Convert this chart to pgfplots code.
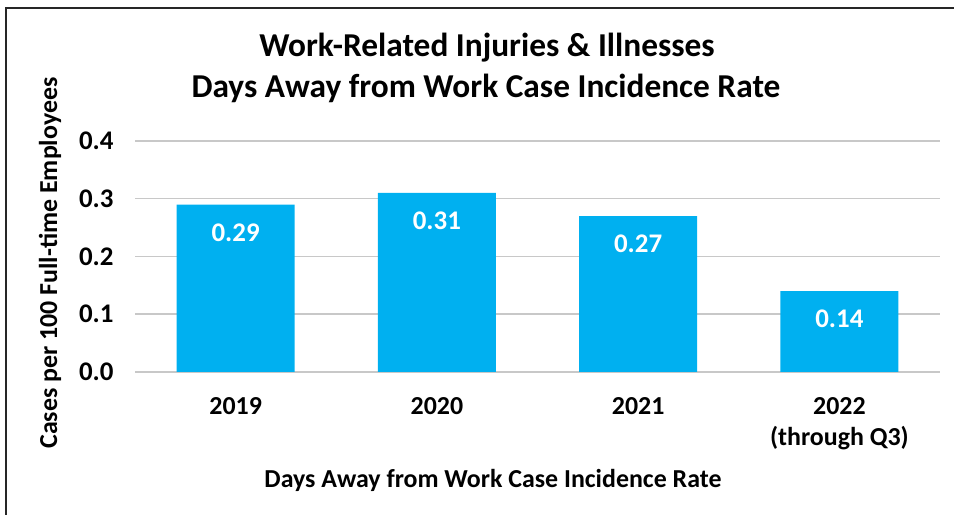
\documentclass[border=0pt]{standalone}
\usepackage{pgfplots}
\pgfplotsset{compat=1.18}
\usepackage{fontspec}
\setmainfont{Carlito}
\definecolor{barblue}{HTML}{00B0F0}
\definecolor{gridgray}{HTML}{C8C8C8}
\begin{document}
\begin{tikzpicture}[x=1bp,y=1bp]
\useasboundingbox (0,0) rectangle (954,515);
\draw[line width=1.6bp, black!85] (6,-2) -- (6,507) -- (956,507);
\begin{axis}[
  at={(135bp,143bp)}, anchor=south west,
  width=805bp, height=231bp, scale only axis,
  xmin=-0.5, xmax=3.5, ymin=0, ymax=0.4,
  axis line style={draw=none},
  ymajorgrids, grid style={gridgray, line width=1.5bp},
  ytick={0,0.1,0.2,0.3,0.4},
  yticklabels={0.0,0.1,0.2,0.3,0.4},
  xtick={0,1,2,3},
  xticklabels={2019,2020,2021,{2022\\(through Q3)}},
  x tick label style={align=center, font=\bfseries\fontsize{26}{31}\selectfont, yshift=-22bp},
  y tick label style={font=\bfseries\fontsize{27}{30}\selectfont, xshift=-18bp},
  major tick length=0pt,
  /pgf/number format/assume math mode=true,
  ybar, bar width=118bp, bar shift=0pt,
  nodes near coords,
  every node near coord/.append style={font=\bfseries\fontsize{27}{30}\selectfont, white, anchor=center, yshift=-28bp,
    /pgf/number format/fixed, /pgf/number format/precision=2},
  clip=false,
]
\addplot[fill=barblue, draw=none] coordinates {(0,0.29) (1,0.31) (2,0.27) (3,0.14)};
\end{axis}
\node[font=\bfseries\fontsize{33.5}{40}\selectfont, align=center] at (487,467) {Work-Related Injuries \& Illnesses};
\node[font=\bfseries\fontsize{33.5}{40}\selectfont, align=center] at (486,427) {Days Away from Work Case Incidence Rate};
\node[font=\bfseries\fontsize{26}{31}\selectfont] at (493,35) {Days Away from Work Case Incidence Rate};
\node[font=\bfseries\fontsize{26}{31}\selectfont, rotate=90] at (50,252) {Cases per 100 Full-time Employees};
\end{tikzpicture}
\end{document}
